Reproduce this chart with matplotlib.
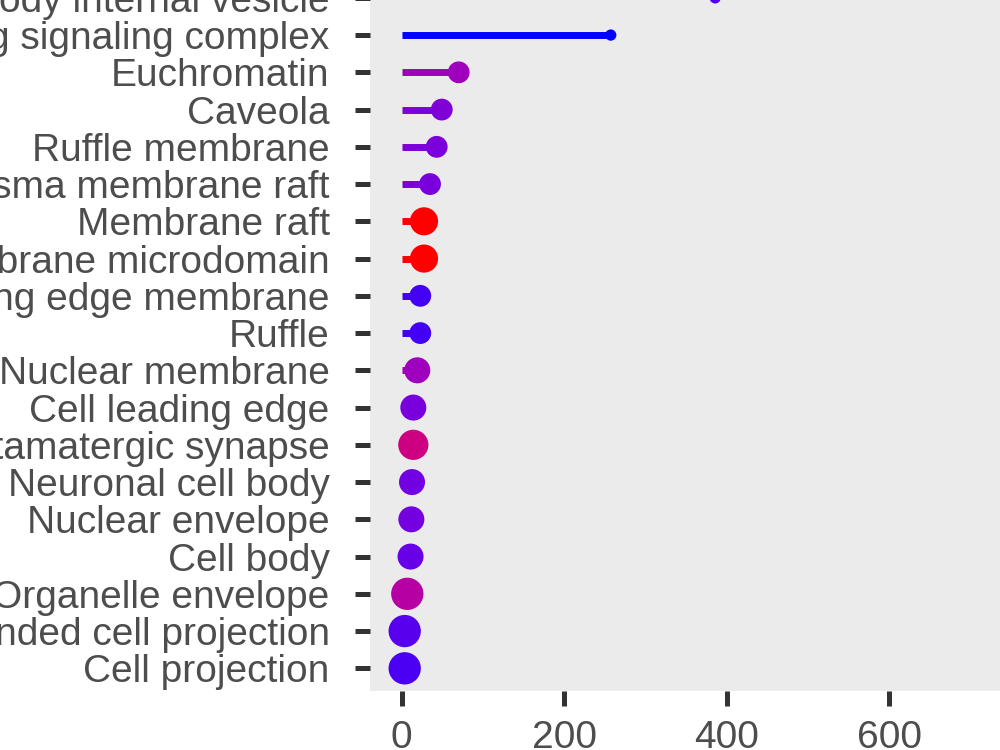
import numpy as np
import matplotlib.pyplot as plt

# GO cellular component terms, top to bottom as drawn
terms = [
    "Multivesicular body internal vesicle",
    "Death-inducing signaling complex",
    "Euchromatin",
    "Caveola",
    "Ruffle membrane",
    "Plasma membrane raft",
    "Membrane raft",
    "Membrane microdomain",
    "Leading edge membrane",
    "Ruffle",
    "Nuclear membrane",
    "Cell leading edge",
    "Glutamatergic synapse",
    "Neuronal cell body",
    "Nuclear envelope",
    "Cell body",
    "Organelle envelope",
    "Plasma membrane bounded cell projection",
    "Cell projection",
]
fold_enrichment = [386, 257.5, 70.4, 49.5, 43.3, 35.1, 27.7, 27.7, 23.1, 23.1,
                   19.4, 14.5, 14.5, 12.9, 12.1, 11.1, 7.1, 3.9, 3.9]
gene_count = [3, 3, 8, 8, 8, 8, 11, 11, 8, 8, 10, 10, 12, 10, 10, 10, 13, 13, 13]
# scaled adjusted p-value (0 = most significant / red, 1 = least / blue)
p_scaled = [0.94, 1.0, 0.73, 0.84, 0.85, 0.86, 0.0, 0.0, 0.96, 0.96,
            0.73, 0.86, 0.47, 0.88, 0.87, 0.9, 0.62, 0.93, 0.95]


# red -> blue gradient interpolated in Lab space (like ggplot2)
def srgb_to_lab(rgb):
    rgb = np.asarray(rgb, float)
    lin = np.where(rgb <= 0.04045, rgb / 12.92, ((rgb + 0.055) / 1.055) ** 2.4)
    M = np.array([[0.4124, 0.3576, 0.1805],
                  [0.2126, 0.7152, 0.0722],
                  [0.0193, 0.1192, 0.9505]])
    xyz = M @ lin / np.array([0.95047, 1.0, 1.08883])
    f = np.where(xyz > 0.008856, np.cbrt(xyz), 7.787 * xyz + 16 / 116)
    return np.array([116 * f[1] - 16, 500 * (f[0] - f[1]), 200 * (f[1] - f[2])])


def lab_to_srgb(lab):
    L, a, b = lab
    fy = (L + 16) / 116
    f = np.array([fy + a / 500, fy, fy - b / 200])
    xyz = np.where(f ** 3 > 0.008856, f ** 3, (f - 16 / 116) / 7.787)
    xyz = xyz * np.array([0.95047, 1.0, 1.08883])
    Minv = np.array([[3.2406, -1.5372, -0.4986],
                     [-0.9689, 1.8758, 0.0415],
                     [0.0557, -0.2040, 1.0570]])
    lin = np.clip(Minv @ xyz, 0, 1)
    rgb = np.where(lin <= 0.0031308, 12.92 * lin, 1.055 * lin ** (1 / 2.4) - 0.055)
    return np.clip(rgb, 0, 1)


lab_low = srgb_to_lab([1, 0, 0])
lab_high = srgb_to_lab([0, 0, 1])
colors = [lab_to_srgb(lab_low + t * (lab_high - lab_low)) for t in p_scaled]

y = np.arange(len(terms))[::-1]
diam_px = 5 + 2.1 * np.array(gene_count)
sizes = (diam_px * 0.72) ** 2

fig = plt.figure(figsize=(10, 7.5), dpi=100)
ax = fig.add_axes([0.37, 0.0791, 0.6864, 0.9536])
ax.set_facecolor("#EBEBEB")

ax.hlines(y, 0, fold_enrichment, colors=colors, linewidth=5.0, zorder=2)
ax.scatter(fold_enrichment, y, s=sizes, c=colors, linewidths=0, zorder=3)

ax.set_xlim(-38.8, 806)
ax.set_ylim(-0.6, len(terms) - 0.4)
ax.set_yticks(y)
ax.set_yticklabels(terms)
ax.set_xticks([0, 200, 400, 600])

for spine in ax.spines.values():
    spine.set_visible(False)

ax.tick_params(axis="both", colors="#333333", labelcolor="#4D4D4D",
               labelsize=28, length=11, width=3.6)
ax.tick_params(axis="y", pad=18)
ax.tick_params(axis="x", pad=10)
for lbl in ax.get_xticklabels() + ax.get_yticklabels():
    lbl.set_fontfamily("Liberation Sans")

fig.savefig("out.png", dpi=100)
